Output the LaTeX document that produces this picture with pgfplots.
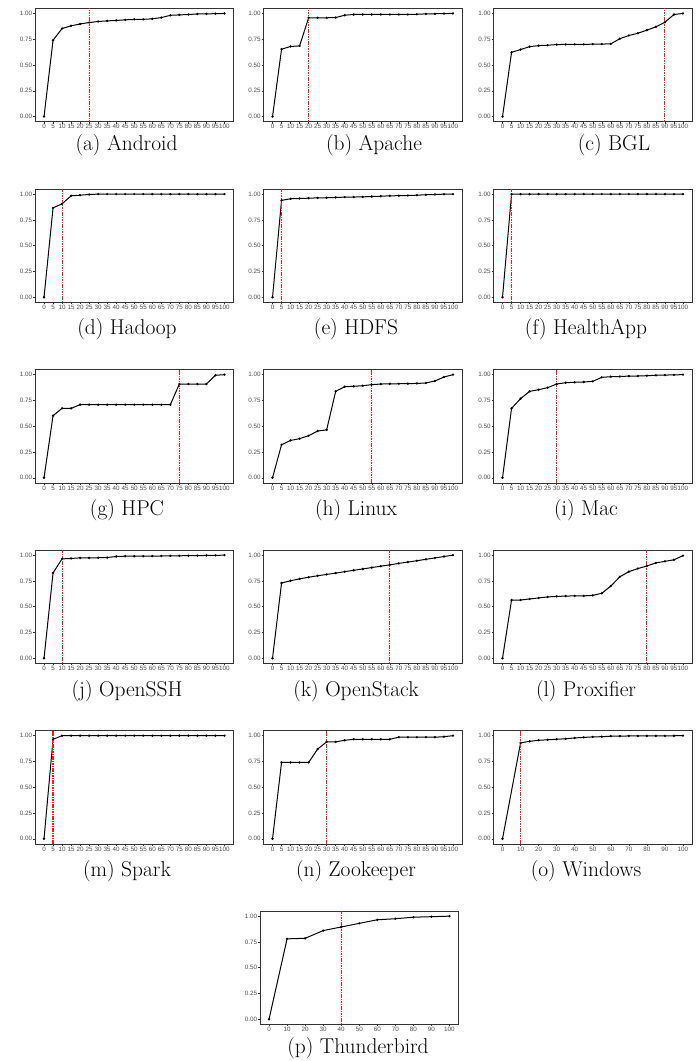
\documentclass[border=0pt]{standalone}
\usepackage{fontspec}
\usepackage{pgfplots}
\pgfplotsset{compat=1.18}
\newfontfamily\tickfont{Liberation Sans}

\pgfplotsset{
  cdfpanel/.style={
    scale only axis, width=198.5bp, height=113.4bp,
    anchor=north west,
    xmin=-5, xmax=105, ymin=-0.05, ymax=1.05,
    axis line style={black!80, line width=0.8bp},
    tick align=outside, xtick pos=left, ytick pos=left,
    major tick length=1.8bp,
    tick style={black!80, line width=0.5bp},
    xtick={0,5,...,100},
    ytick={0,0.25,0.5,0.75,1},
    /pgf/number format/assume math mode=true,
    ticklabel style={font=\tickfont\fontsize{6.3}{7}\selectfont, text=black!70},
    xticklabel style={inner sep=0.8bp},
    yticklabel style={inner sep=0.8bp, /pgf/number format/fixed,
      /pgf/number format/fixed zerofill, /pgf/number format/precision=2},
  },
  cdfline/.style={black, line width=1bp, mark=*, mark size=0.6bp},
  cutline/.style={color=red!90!white, line width=1.1bp, dash pattern=on 1.6bp off 0.8bp},
}

\begin{document}
\begin{tikzpicture}
\path[use as bounding box] (0,0) rectangle (699bp,-1061bp);

% ---- row 1
\begin{axis}[cdfpanel, at={(35bp,-8.3bp)}]
\addplot[cdfline] coordinates {(0,0)(5,0.74)(10,0.854)(15,0.88)(20,0.898)(25,0.912)(30,0.922)(35,0.928)(40,0.932)(45,0.938)(50,0.942)(55,0.943)(60,0.948)(65,0.96)(70,0.982)(75,0.986)(80,0.99)(85,0.995)(90,0.996)(95,0.998)(100,1)};
\addplot[cutline] coordinates {(25,-0.05)(25,1.05)};
\end{axis}
\begin{axis}[cdfpanel, at={(263.5bp,-8.3bp)}]
\addplot[cdfline] coordinates {(0,0)(5,0.653)(10,0.68)(15,0.685)(20,0.958)(25,0.958)(30,0.958)(35,0.96)(40,0.983)(45,0.99)(50,0.99)(55,0.99)(60,0.99)(65,0.99)(70,0.99)(75,0.99)(80,0.992)(85,0.996)(90,0.997)(95,0.999)(100,1)};
\addplot[cutline] coordinates {(20,-0.05)(20,1.05)};
\end{axis}
\begin{axis}[cdfpanel, at={(493.5bp,-8.3bp)}]
\addplot[cdfline] coordinates {(0,0)(5,0.623)(10,0.65)(15,0.678)(20,0.688)(25,0.692)(30,0.698)(35,0.7)(40,0.7)(45,0.7)(50,0.702)(55,0.703)(60,0.705)(65,0.755)(70,0.786)(75,0.808)(80,0.838)(85,0.87)(90,0.915)(95,0.99)(100,1)};
\addplot[cutline] coordinates {(90,-0.05)(90,1.05)};
\end{axis}

% ---- row 2
\begin{axis}[cdfpanel, at={(35bp,-189bp)}]
\addplot[cdfline] coordinates {(0,0)(5,0.867)(10,0.906)(15,0.984)(20,0.99)(25,0.997)(30,1)(35,1)(40,1)(45,1)(50,1)(55,1)(60,1)(65,1)(70,1)(75,1)(80,1)(85,1)(90,1)(95,1)(100,1)};
\addplot[cutline] coordinates {(10,-0.05)(10,1.05)};
\end{axis}
\begin{axis}[cdfpanel, at={(263.5bp,-189bp)}]
\addplot[cdfline] coordinates {(0,0)(5,0.94)(10,0.955)(15,0.958)(20,0.961)(25,0.964)(30,0.965)(35,0.968)(40,0.971)(45,0.972)(50,0.974)(55,0.977)(60,0.98)(65,0.984)(70,0.985)(75,0.987)(80,0.99)(85,0.994)(90,0.997)(95,1)(100,1)};
\addplot[cutline] coordinates {(5,-0.05)(5,1.05)};
\end{axis}
\begin{axis}[cdfpanel, at={(493.5bp,-189bp)}]
\addplot[cdfline] coordinates {(0,0)(5,1)(10,1)(15,1)(20,1)(25,1)(30,1)(35,1)(40,1)(45,1)(50,1)(55,1)(60,1)(65,1)(70,1)(75,1)(80,1)(85,1)(90,1)(95,1)(100,1)};
\addplot[cutline] coordinates {(5,-0.05)(5,1.05)};
\end{axis}

% ---- row 3
\begin{axis}[cdfpanel, at={(35bp,-369.5bp)}]
\addplot[cdfline] coordinates {(0,0)(5,0.602)(10,0.673)(15,0.673)(20,0.709)(25,0.709)(30,0.709)(35,0.709)(40,0.709)(45,0.709)(50,0.709)(55,0.709)(60,0.709)(65,0.709)(70,0.709)(75,0.909)(80,0.909)(85,0.909)(90,0.909)(95,0.994)(100,1)};
\addplot[cutline] coordinates {(75,-0.05)(75,1.05)};
\end{axis}
\begin{axis}[cdfpanel, at={(263.5bp,-369.5bp)}]
\addplot[cdfline] coordinates {(0,0)(5,0.32)(10,0.362)(15,0.379)(20,0.408)(25,0.453)(30,0.465)(35,0.838)(40,0.883)(45,0.887)(50,0.893)(55,0.903)(60,0.909)(65,0.911)(70,0.912)(75,0.913)(80,0.915)(85,0.919)(90,0.939)(95,0.977)(100,1)};
\addplot[cutline] coordinates {(55,-0.05)(55,1.05)};
\end{axis}
\begin{axis}[cdfpanel, at={(493.5bp,-369.5bp)}]
\addplot[cdfline] coordinates {(0,0)(5,0.673)(10,0.767)(15,0.838)(20,0.854)(25,0.874)(30,0.909)(35,0.922)(40,0.926)(45,0.929)(50,0.935)(55,0.974)(60,0.98)(65,0.982)(70,0.986)(75,0.987)(80,0.99)(85,0.994)(90,0.996)(95,0.998)(100,1)};
\addplot[cutline] coordinates {(30,-0.05)(30,1.05)};
\end{axis}

% ---- row 4
\begin{axis}[cdfpanel, at={(35bp,-550bp)}]
\addplot[cdfline] coordinates {(0,0)(5,0.828)(10,0.964)(15,0.968)(20,0.974)(25,0.974)(30,0.975)(35,0.977)(40,0.987)(45,0.99)(50,0.99)(55,0.99)(60,0.991)(65,0.992)(70,0.993)(75,0.994)(80,0.995)(85,0.996)(90,0.997)(95,0.998)(100,1)};
\addplot[cutline] coordinates {(10,-0.05)(10,1.05)};
\end{axis}
\begin{axis}[cdfpanel, at={(263.5bp,-550bp)}]
\addplot[cdfline] coordinates {(0,0)(5,0.73)(10,0.752)(15,0.77)(20,0.786)(25,0.8)(30,0.813)(35,0.826)(40,0.84)(45,0.853)(50,0.866)(55,0.88)(60,0.893)(65,0.906)(70,0.92)(75,0.933)(80,0.946)(85,0.96)(90,0.973)(95,0.987)(100,1)};
\addplot[cutline] coordinates {(65,-0.05)(65,1.05)};
\end{axis}
\begin{axis}[cdfpanel, at={(493.5bp,-550bp)}]
\addplot[cdfline] coordinates {(0,0)(5,0.565)(10,0.565)(15,0.575)(20,0.585)(25,0.595)(30,0.6)(35,0.603)(40,0.605)(45,0.605)(50,0.61)(55,0.63)(60,0.7)(65,0.79)(70,0.84)(75,0.87)(80,0.895)(85,0.925)(90,0.94)(95,0.955)(100,0.995)};
\addplot[cutline] coordinates {(80,-0.05)(80,1.05)};
\end{axis}

% ---- row 5
\begin{axis}[cdfpanel, at={(35bp,-730.5bp)}]
\addplot[cdfline] coordinates {(0,0)(5,0.965)(10,1)(15,1)(20,1)(25,1)(30,1)(35,1)(40,1)(45,1)(50,1)(55,1)(60,1)(65,1)(70,1)(75,1)(80,1)(85,1)(90,1)(95,1)(100,1)};
\addplot[cutline] coordinates {(5,-0.05)(5,1.05)};
\end{axis}
\begin{axis}[cdfpanel, at={(263.5bp,-730.5bp)}]
\addplot[cdfline] coordinates {(0,0)(5,0.74)(10,0.74)(15,0.74)(20,0.74)(25,0.87)(30,0.94)(35,0.94)(40,0.955)(45,0.965)(50,0.965)(55,0.965)(60,0.965)(65,0.965)(70,0.985)(75,0.985)(80,0.985)(85,0.985)(90,0.985)(95,0.99)(100,1)};
\addplot[cutline] coordinates {(30,-0.05)(30,1.05)};
\end{axis}
\begin{axis}[cdfpanel, at={(493.5bp,-730.5bp)}, xtick={0,10,...,100}]
\addplot[cdfline] coordinates {(0,0)(10,0.93)(15,0.945)(20,0.955)(25,0.96)(30,0.965)(35,0.97)(40,0.978)(45,0.983)(50,0.988)(55,0.99)(60,0.995)(65,0.996)(70,0.997)(75,0.997)(80,0.998)(85,0.998)(90,0.999)(95,0.999)(100,1)};
\addplot[cutline] coordinates {(10,-0.05)(10,1.05)};
\end{axis}

% ---- row 6
\begin{axis}[cdfpanel, at={(260bp,-911bp)}, xtick={0,10,...,100}]
\addplot[cdfline] coordinates {(0,0)(10,0.78)(20,0.785)(30,0.86)(40,0.895)(50,0.93)(60,0.965)(70,0.975)(80,0.99)(90,0.995)(100,1)};
\addplot[cutline] coordinates {(40,-0.05)(40,1.05)};
\end{axis}

% ---- captions
\begin{scope}[every node/.style={anchor=base, inner sep=0pt, font=\fontsize{21.5}{24}\selectfont}]
\node at (126.5bp,-150.5bp) {(a) Android};
\node at (374bp,-150.5bp) {(b) Apache};
\node at (614bp,-150.5bp) {(c) BGL};
\node at (127bp,-334.5bp) {(d) Hadoop};
\node at (356bp,-334.5bp) {(e) HDFS};
\node at (586bp,-334.5bp) {(f) HealthApp};
\node at (127bp,-515.5bp) {(g) HPC};
\node at (356bp,-515.5bp) {(h) Linux};
\node at (586bp,-515.5bp) {(i) Mac};
\node at (127bp,-696bp) {(j) OpenSSH};
\node at (356bp,-696bp) {(k) OpenStack};
\node at (586bp,-696bp) {(l) Proxifier};
\node at (127bp,-876.5bp) {(m) Spark};
\node at (356bp,-876.5bp) {(n) Zookeeper};
\node at (586bp,-876.5bp) {(o) Windows};
\node at (358bp,-1053bp) {(p) Thunderbird};
\end{scope}
\end{tikzpicture}
\end{document}
